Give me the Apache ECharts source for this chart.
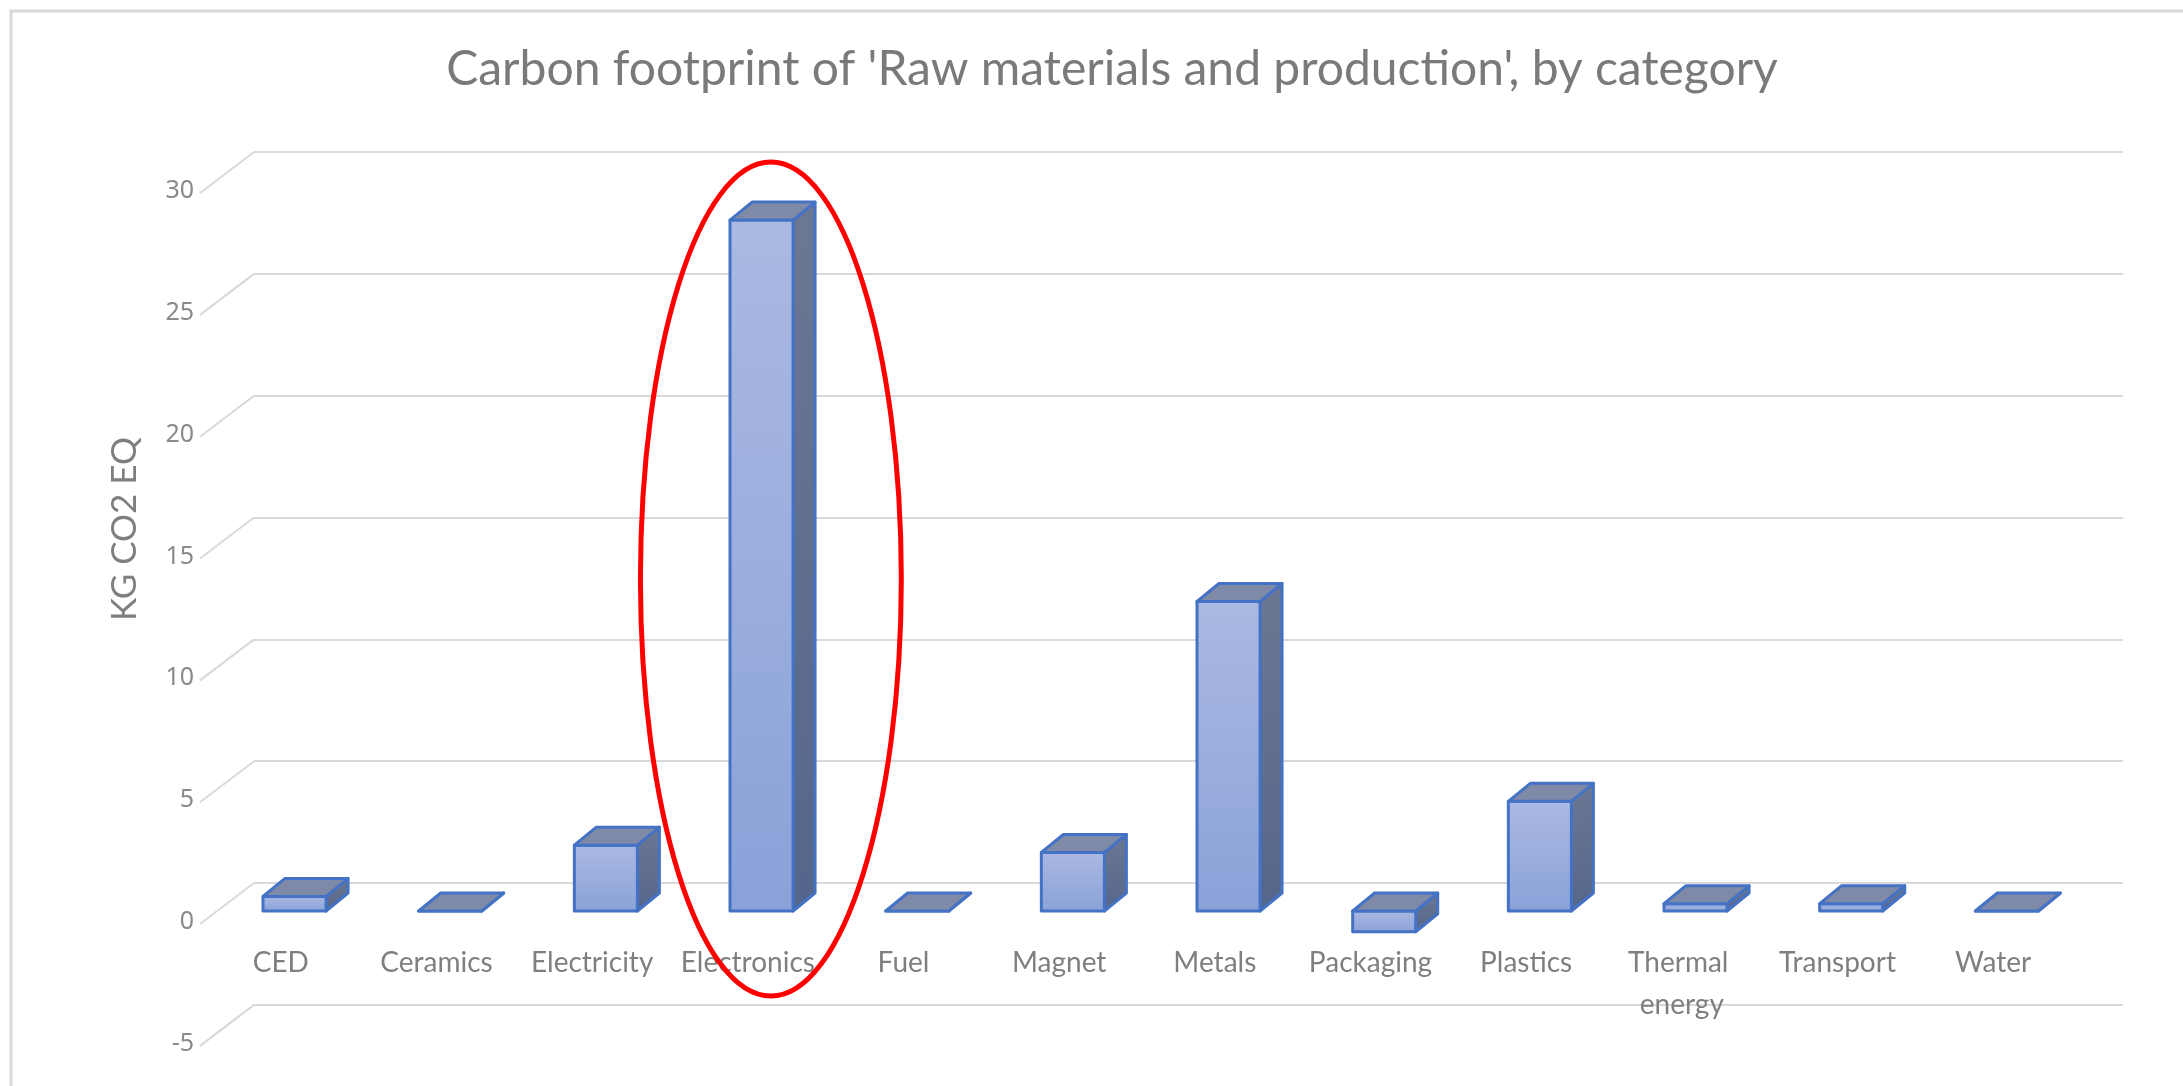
<!DOCTYPE html>
<html><head><meta charset="utf-8">
<script src="https://cdn.jsdelivr.net/npm/echarts@6/dist/echarts.min.js"></script>
<style>html,body{margin:0;padding:0;background:#fff}#c{width:2183px;height:1086px}</style>
</head><body><div id="c"></div>
<script>
const titleText = "Carbon footprint of 'Raw materials and production', by category";
const yAxisTitle = 'KG CO2 EQ';
const categories = ['CED','Ceramics','Electricity','Electronics','Fuel','Magnet','Metals','Packaging','Plastics','Thermal energy','Transport','Water'];
const co2Values = [0.6, 0, 2.7, 28.35, 0, 2.4, 12.7, -0.85, 4.5, 0.3, 0.3, 0];
const yTicks = [-5, 0, 5, 10, 15, 20, 25, 30];
const yMin = -5, yMax = 30, yStep = 5;
const highlightCategory = 'Electronics';

const FONT = 'Lato, "Open Sans", sans-serif';
const DEPTH = [22, -18];      // bar depth offset
const WALL = [-54, 41];       // wall-to-front diagonal
const EDGE = '#4472c4';

const chart = echarts.init(document.getElementById('c'), null, {renderer: 'canvas'});

function barItem(params, api) {
  const i = api.value(0), v = api.value(1);
  const t = api.coord([i, Math.max(0, v)]);
  const b = api.coord([i, Math.min(0, v)]);
  const w = api.size([1, 0])[0] * 0.405;
  const x0 = t[0] - w / 2, x1 = t[0] + w / 2;
  const yt = t[1], yb = b[1];
  const dx = DEPTH[0], dy = DEPTH[1];
  const common = {stroke: EDGE, lineWidth: 3, lineJoin: 'round'};
  return {
    type: 'group',
    children: [
      {type: 'polygon', shape: {points: [[x1, yt], [x1 + dx, yt + dy], [x1 + dx, yb + dy], [x1, yb]]},
       style: Object.assign({fill: new echarts.graphic.LinearGradient(0, 0, 0, 1, [{offset: 0, color: '#6c7893'}, {offset: 1, color: '#55658b'}])}, common)},
      {type: 'rect', shape: {x: x0, y: yt, width: w, height: yb - yt},
       style: Object.assign({fill: new echarts.graphic.LinearGradient(0, 0, 0, 1, [{offset: 0, color: '#abb9e2'}, {offset: 1, color: '#8aa2d9'}])}, common)},
      {type: 'polygon', shape: {points: [[x0, yt], [x0 + dx, yt + dy], [x1 + dx, yt + dy], [x1, yt]]},
       style: Object.assign({fill: '#7f8aa8'}, common)}
    ]
  };
}

function wallItem(params, api) {
  const p = api.coord([0, api.value(1)]);
  return {type: 'line', shape: {x1: p[0], y1: p[1], x2: p[0] + WALL[0], y2: p[1] + WALL[1]},
          style: {stroke: '#d9d9d9', lineWidth: 2}};
}

function ellipseItem(params, api) {
  const i = api.value(0), v = api.value(1);
  const base = api.coord([i, 0]);
  const top = api.coord([i, v]);
  const band = api.size([1, 0])[0];
  return {type: 'ellipse',
          shape: {cx: base[0] + band * 0.06, cy: (base[1] + top[1]) / 2 + 13.5, rx: band * 0.838, ry: (base[1] - top[1]) / 2 + 71.5},
          style: {fill: 'none', stroke: '#ff0000', lineWidth: 5}};
}

const hi = categories.indexOf(highlightCategory);

chart.setOption({
  animation: false,
  backgroundColor: '#ffffff',
  title: {text: titleText, left: 1107, textAlign: 'center', top: 37,
          textStyle: {fontFamily: FONT, fontSize: 48, fontWeight: 'normal', color: '#7a7a7a', lineHeight: 56}},
  graphic: [
    {type: 'rect', shape: {x: 11, y: 11, width: 2400, height: 1200}, style: {fill: 'none', stroke: '#d9d9d9', lineWidth: 3}, silent: true, z: -10},
    {type: 'text', x: 125, y: 529, rotation: Math.PI / 2,
     style: {text: yAxisTitle, align: 'center', verticalAlign: 'middle', font: '35px Lato, sans-serif', fill: '#7f7f7f'}}
  ],
  grid: [
    {left: 254, right: 60, top: 152, bottom: 81.1, containLabel: false, outerBoundsMode: 'none'},
    {left: 216.7, right: 98.3, top: 179.9, bottom: 53.15, containLabel: false, outerBoundsMode: 'none'},
    {left: 203, right: 112, top: 190.9, bottom: 42.15, containLabel: false, outerBoundsMode: 'none'}
  ],
  xAxis: [
    {gridIndex: 0, type: 'value', min: 0, max: 1, show: false},
    {gridIndex: 1, type: 'category', data: categories, show: false},
    {gridIndex: 2, type: 'category', data: categories, position: 'bottom', offset: -125.85,
     axisLine: {show: false, onZero: false}, axisTick: {show: false}, splitLine: {show: false},
     axisLabel: {interval: 0, margin: 24, fontFamily: FONT, fontSize: 28, color: '#7f7f7f', lineHeight: 42, width: 150, overflow: 'break'}}
  ],
  yAxis: [
    {gridIndex: 0, type: 'value', min: yMin, max: yMax, interval: yStep,
     axisLine: {show: false}, axisTick: {show: false}, axisLabel: {show: false},
     splitLine: {show: true, lineStyle: {color: '#d9d9d9', width: 2}}},
    {gridIndex: 1, type: 'value', min: yMin, max: yMax, interval: yStep, show: false},
    {gridIndex: 2, type: 'value', min: yMin, max: yMax, interval: yStep,
     axisLine: {show: false}, axisTick: {show: false}, splitLine: {show: false},
     axisLabel: {margin: 9, fontFamily: '"Noto Sans", sans-serif', fontSize: 25, color: '#8a8a8a'}}
  ],
  series: [
    {type: 'custom', xAxisIndex: 0, yAxisIndex: 0, renderItem: wallItem, silent: true, z: 1,
     data: yTicks.map(v => [0, v])},
    {type: 'custom', xAxisIndex: 1, yAxisIndex: 1, renderItem: barItem, z: 5,
     encode: {x: 0, y: 1},
     data: categories.map((c, i) => [i, co2Values[i]])},
    {type: 'custom', xAxisIndex: 1, yAxisIndex: 1, renderItem: ellipseItem, silent: true, z: 20,
     encode: {x: 0, y: 1},
     data: [[hi, co2Values[hi]]]}
  ]
});
</script>
</body></html>
